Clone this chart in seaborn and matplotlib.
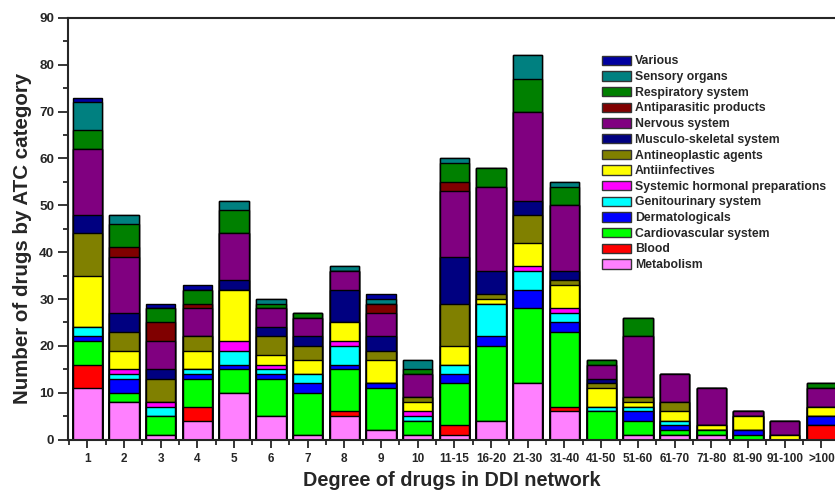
import numpy as np
import matplotlib
matplotlib.use("Agg")
import matplotlib.pyplot as plt
from matplotlib.patches import Patch
from matplotlib.ticker import FixedLocator, MultipleLocator
import seaborn as sns

# degree bins on the x axis
categories = ["1", "2", "3", "4", "5", "6", "7", "8", "9", "10", "11-15", "16-20",
              "21-30", "31-40", "41-50", "51-60", "61-70", "71-80", "81-90", "91-100", ">100"]

# ATC categories, bottom of the stack first
metabolism    = [11, 8, 1, 4, 10, 5, 1, 5, 2, 1, 1, 4, 12, 6, 0, 1, 1, 1, 0, 0, 0]
blood         = [5, 0, 0, 3, 0, 0, 0, 1, 0, 0, 2, 0, 0, 1, 0, 0, 0, 0, 0, 0, 3]
cardio        = [5, 2, 4, 6, 5, 8, 9, 9, 9, 3, 9, 16, 16, 16, 6, 3, 1, 1, 1, 0, 0]
dermato       = [1, 3, 0, 1, 1, 1, 2, 1, 1, 0, 2, 2, 4, 2, 0, 2, 1, 0, 1, 0, 2]
genito        = [2, 1, 2, 1, 3, 1, 2, 4, 0, 1, 2, 7, 4, 2, 1, 1, 1, 0, 0, 0, 0]
hormonal      = [0, 1, 1, 0, 2, 1, 0, 1, 0, 1, 0, 0, 1, 1, 0, 0, 0, 0, 0, 0, 0]
antiinfective = [11, 4, 0, 4, 11, 2, 3, 4, 5, 2, 4, 1, 5, 5, 4, 1, 2, 1, 3, 1, 2]
antineoplast  = [9, 4, 5, 3, 0, 4, 3, 0, 2, 1, 9, 1, 6, 1, 1, 1, 2, 0, 0, 0, 0]
musculo       = [4, 4, 2, 0, 2, 2, 2, 7, 3, 0, 10, 5, 3, 2, 1, 0, 0, 0, 0, 0, 0]
nervous       = [14, 12, 6, 6, 10, 4, 4, 4, 5, 5, 14, 18, 19, 14, 3, 13, 6, 8, 1, 3, 4]
antiparasitic = [0, 2, 4, 1, 0, 0, 0, 0, 2, 0, 2, 0, 0, 0, 0, 0, 0, 0, 0, 0, 0]
respiratory   = [4, 5, 3, 3, 5, 1, 1, 0, 0, 1, 4, 4, 7, 4, 1, 4, 0, 0, 0, 0, 1]
sensory       = [6, 2, 0, 0, 2, 1, 0, 1, 1, 2, 1, 0, 5, 1, 0, 0, 0, 0, 0, 0, 0]
various       = [1, 0, 1, 1, 0, 0, 0, 0, 1, 0, 0, 0, 0, 0, 0, 0, 0, 0, 0, 0, 0]

layer_names = ["Metabolism", "Blood", "Cardiovascular system", "Dermatologicals",
               "Genitourinary system", "Systemic hormonal preparations", "Antiinfectives",
               "Antineoplastic agents", "Musculo-skeletal system", "Nervous system",
               "Antiparasitic products", "Respiratory system", "Sensory organs", "Various"]
layers = [metabolism, blood, cardio, dermato, genito, hormonal, antiinfective,
          antineoplast, musculo, nervous, antiparasitic, respiratory, sensory, various]
colors = ["#FF80FF", "#FF0000", "#00FF00", "#0000FF", "#00FFFF", "#FF00FF", "#FFFF00",
          "#808000", "#000080", "#800080", "#800000", "#008000", "#008080", "#0000A0"]

sns.set_style("ticks")
plt.rcParams["font.family"] = ["Liberation Sans", "DejaVu Sans"]
plt.rcParams["font.weight"] = "bold"

fig = plt.figure(figsize=(8.35, 4.94), dpi=100)
ax = fig.add_axes([68 / 835, 1 - 439.5 / 494, 767 / 835, 421.5 / 494])

# stacked bars: draw cumulative totals from the top layer down
cum = np.cumsum(np.array(layers), axis=0)
for i in range(len(layers) - 1, -1, -1):
    sns.barplot(x=categories, y=cum[i], order=categories, color=colors[i],
                saturation=1, edgecolor="black", linewidth=1, width=0.8,
                errorbar=None, ax=ax)

ax.set_xlim(-0.526, 20.37)
ax.set_ylim(0, 90)

ax.xaxis.set_major_locator(FixedLocator(range(len(categories))))
ax.set_xticklabels(categories, fontsize=8.5, fontweight="bold")
ax.xaxis.set_minor_locator(FixedLocator(np.arange(-0.5, len(categories), 1.0)))
ax.yaxis.set_major_locator(MultipleLocator(10))
ax.yaxis.set_minor_locator(MultipleLocator(5))
ax.tick_params(axis="y", which="major", length=7, width=1.3, labelsize=9.7, pad=3)
ax.tick_params(axis="y", which="minor", length=3.5, width=1.3)
ax.tick_params(axis="x", which="major", length=6, width=1.3, pad=4)
ax.tick_params(axis="x", which="minor", length=3.5, width=1.3)
for lbl in ax.get_yticklabels():
    lbl.set_fontweight("bold")

for side in ["left", "bottom", "top"]:
    ax.spines[side].set_linewidth(1.5)
    ax.spines[side].set_visible(True)
ax.spines["right"].set_visible(False)

ax.set_xlabel("Degree of drugs in DDI network", fontsize=14.3, fontweight="bold")
ax.set_ylabel("Number of drugs by ATC category", fontsize=14.8, fontweight="bold")
ax.xaxis.set_label_coords(0.5, -0.075)
ax.yaxis.set_label_coords(-0.047, 0.477)

handles = [Patch(facecolor=colors[i], edgecolor="#333333", linewidth=1, label=layer_names[i])
           for i in range(len(layers) - 1, -1, -1)]
fig.legend(handles=handles, loc="upper left", bbox_to_anchor=(602 / 835, 1 - 55.5 / 494),
           bbox_transform=fig.transFigure, frameon=False, borderpad=0, borderaxespad=0,
           handlelength=2.4, handleheight=0.78, labelspacing=0.3,
           handletextpad=0.3, prop={"weight": "bold", "size": 8.8})

fig.savefig("out.png", dpi=100)
